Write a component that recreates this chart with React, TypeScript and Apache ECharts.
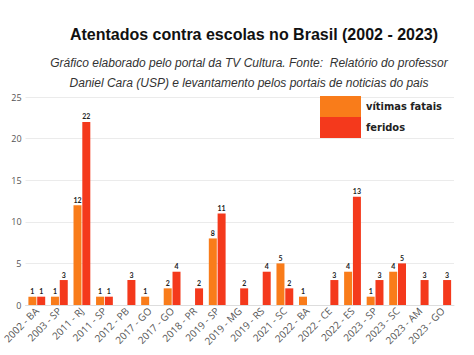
import React, { useEffect, useRef } from "react";
import * as echarts from "echarts";

const categories = [
  "2002 - BA", "2003 - SP", "2011 - RJ", "2011 - SP", "2012 - PB", "2017 - GO", "2017 - GO",
  "2018 - PR", "2019 - SP", "2019 - MG", "2019 - RS", "2021 - SC", "2022 - BA", "2022 - CE",
  "2022 - ES", "2023 - SP", "2023 - SC", "2023 - AM", "2023 - GO",
];
const vitimasFatais = [1, 1, 12, 1, null, 1, 2, null, 8, null, null, 5, 1, null, 4, 1, 4, null, null];
const feridos = [1, 3, 22, 1, 3, null, 4, 2, 11, 2, 4, 2, null, 3, 13, 3, 5, 3, 3];
const yTicks = { min: 0, max: 25, interval: 5 };

const titleText = "Atentados contra escolas no Brasil (2002 - 2023)";
const subtitleLines = [
  "Gráfico elaborado pelo portal da TV Cultura. Fonte:  Relatório do professor",
  "Daniel Cara (USP) e levantamento pelos portais de noticias do pais",
];

const ORANGE = "#F97C1A";
const RED = "#F4391C";

export default function App() {
  const ref = useRef<HTMLDivElement>(null);
  useEffect(() => {
    if (!ref.current) return;
    const chart = echarts.init(ref.current, undefined, { renderer: "svg" });
    const label = {
      show: true,
      position: "top",
      distance: 2,
      fontSize: 7,
      fontWeight: "bold",
      color: "#222",
      fontFamily: "Lato",
    };
    chart.setOption({
      animation: false,
      backgroundColor: "#fff",
      graphic: [
        {
          type: "text",
          x: 254,
          y: 26,
          style: {
            text: titleText,
            fontSize: 16,
            fontWeight: "bold",
            fontFamily: "Liberation Sans",
            fill: "#111",
            textAlign: "center",
          },
        },
        {
          type: "text",
          x: 249,
          y: 53,
          style: {
            text: subtitleLines.join("\n"),
            fontSize: 12,
            fontStyle: "italic",
            fontFamily: "Liberation Sans",
            fill: "#333",
            textAlign: "center",
            lineHeight: 20,
          },
        },
      ],
      legend: {
        orient: "vertical",
        left: 320,
        top: 96,
        itemWidth: 41,
        itemHeight: 21,
        itemGap: 0,
        padding: 0,
        icon: "rect",
        textStyle: {
          fontFamily: "'Liberation Sans Narrow', 'DejaVu Sans Condensed'",
          fontWeight: "bold",
          fontSize: 11,
          color: "#222",
        },
        data: ["vítimas fatais", "feridos"],
      },
      grid: { left: 25, right: 20, top: 97, bottom: 50 },
      xAxis: {
        type: "category",
        data: categories,
        axisTick: { show: false },
        axisLine: { lineStyle: { color: "#ddd" } },
        axisLabel: {
          rotate: 45,
          interval: 0,
          fontSize: 10,
          color: "#555",
          fontFamily: "Open Sans",
          margin: 4,
        },
      },
      yAxis: {
        type: "value",
        min: yTicks.min,
        max: yTicks.max,
        interval: yTicks.interval,
        axisLabel: { fontSize: 9, color: "#555", fontFamily: "Open Sans", margin: 4 },
        splitLine: { lineStyle: { color: "#ebebeb" } },
      },
      series: [
        {
          name: "vítimas fatais",
          type: "bar",
          data: vitimasFatais,
          itemStyle: { color: ORANGE },
          barWidth: 8,
          barGap: "10%",
          label,
        },
        {
          name: "feridos",
          type: "bar",
          data: feridos,
          itemStyle: { color: RED },
          barWidth: 8,
          barGap: "10%",
          label,
        },
      ],
    });
    return () => chart.dispose();
  }, []);
  return <div ref={ref} style={{ position: "fixed", left: 0, top: 0, width: 474, height: 355 }} />;
}
